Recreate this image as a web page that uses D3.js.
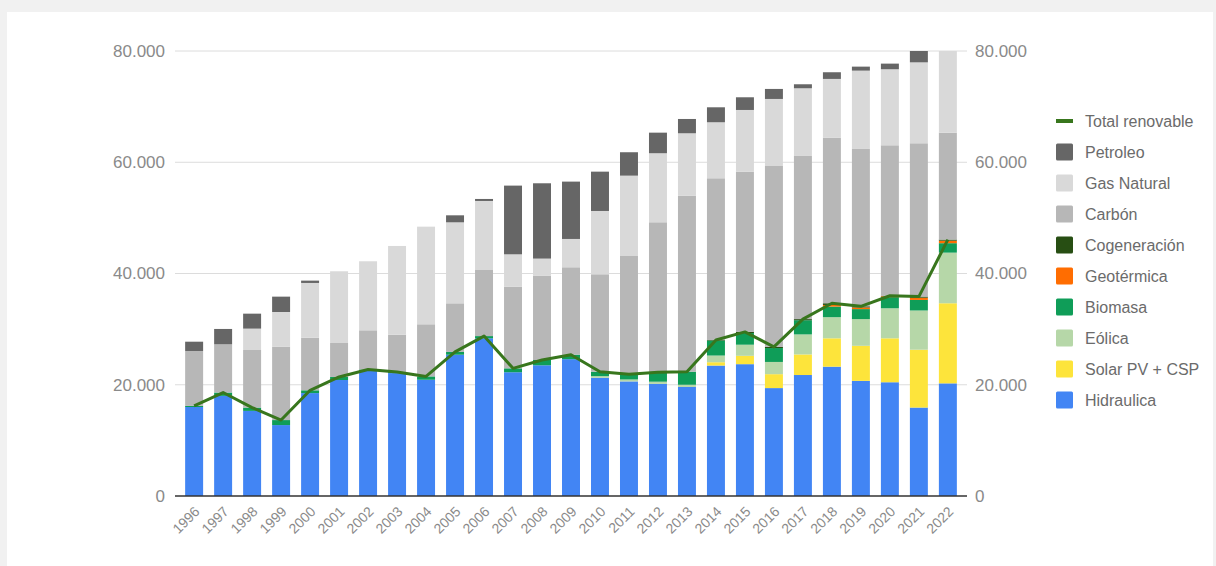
<!DOCTYPE html>
<html>
<head>
<meta charset="utf-8">
<script src="https://cdn.jsdelivr.net/npm/d3@7"></script>
<style>
  html, body { margin: 0; padding: 0; background: #f1f1f1; }
  svg { display: block; font-family: "Liberation Sans", Arial, sans-serif; }
</style>
</head>
<body>
<svg id="chart" width="1216" height="566"></svg>
<script>
// Generation capacity by source (MW), 1996–2022
const years = ["1996","1997","1998","1999","2000","2001","2002","2003","2004","2005","2006","2007","2008","2009","2010","2011","2012","2013","2014","2015","2016","2017","2018","2019","2020","2021","2022"];

const hidraulica   = [16000,18000,15300,12750,18500,20850,22500,22100,20900,25400,28350,22250,23500,24600,21250,20600,20150,19600,23450,23700,19400,21750,23250,20700,20450,15900,20250];
const solar        = [0,0,0,0,0,0,0,0,0,0,0,0,0,0,0,0,0,0,600,1500,2500,3700,5100,6300,7900,10400,14400];
const eolica       = [0,0,0,0,0,0,0,0,0,0,0,0,0,0,300,350,400,400,1200,2000,2200,3600,3800,4800,5400,7050,9100];
const biomasa      = [200,600,600,900,500,550,250,200,600,500,400,700,950,800,800,950,1700,2350,2700,2100,2500,2550,1900,1800,2000,1900,1700];
const geotermica   = [0,0,0,0,0,0,0,0,0,0,0,0,0,0,0,0,0,0,0,0,0,0,300,300,150,400,450];
const cogeneracion = [0,0,0,0,0,0,0,0,0,0,0,0,0,0,0,0,0,0,100,200,200,200,300,200,100,200,200];
const carbon       = [9870,8670,10350,13200,9470,6110,7040,6700,9370,8740,11880,14690,15170,15720,17510,21250,26960,31650,29070,28810,32530,29330,29780,28290,27050,27560,19220];
const gasNatural   = [0,0,3840,6230,9830,12890,12410,15950,17550,14560,12410,5810,3060,5090,11380,14440,12410,11210,10070,11090,12050,12170,10550,14080,13670,14550,14900];
const petroleo     = [1670,2760,2690,2760,420,0,0,0,0,1260,360,12350,13540,10310,7070,4210,3700,2570,2690,2280,1800,720,1200,720,1010,2100,0];
const totalRenovable = [16200,18600,15900,13650,19000,21400,22750,22300,21500,25900,28750,22950,24450,25400,22350,21900,22250,22350,28050,29500,26800,31800,34650,34100,36000,35850,46100];

const yTicks = [0, 20000, 40000, 60000, 80000];

// Stack order from the bottom up
const seriesDefs = [
  { key: "Hidraulica",      values: hidraulica,   color: "#4285f4" },
  { key: "Solar PV + CSP",  values: solar,        color: "#fde43b" },
  { key: "Eólica",          values: eolica,       color: "#b6d7a8" },
  { key: "Biomasa",         values: biomasa,      color: "#0f9d58" },
  { key: "Geotérmica",      values: geotermica,   color: "#ff6d01" },
  { key: "Cogeneración",    values: cogeneracion, color: "#274e13" },
  { key: "Carbón",          values: carbon,       color: "#b7b7b7" },
  { key: "Gas Natural",     values: gasNatural,   color: "#d9d9d9" },
  { key: "Petroleo",        values: petroleo,     color: "#666666" }
];
const lineColor = "#38761d";

const rows = years.map((y, i) => {
  const r = { year: y };
  seriesDefs.forEach(s => { r[s.key] = s.values[i]; });
  return r;
});

const svg = d3.select("#chart");

// card background
svg.append("rect").attr("x", 7).attr("y", 12).attr("width", 1206).attr("height", 554).attr("fill", "#ffffff");

const plot = { left: 175, right: 967, top: 51, bottom: 496 };

const x = d3.scaleBand().domain(years).range([plot.left, plot.right]).paddingInner(0.38).paddingOuter(0.35);
const y = d3.scaleLinear().domain([0, 80000]).range([plot.bottom, plot.top]);

// gridlines
svg.append("g").selectAll("line").data(yTicks.filter(d => d > 0)).join("line")
  .attr("x1", plot.left).attr("x2", plot.right)
  .attr("y1", d => y(d)).attr("y2", d => y(d))
  .attr("stroke", "#dcdcdc").attr("stroke-width", 1);

// clip bars to the plotting area
svg.append("clipPath").attr("id", "plotClip").append("rect")
  .attr("x", plot.left).attr("y", plot.top)
  .attr("width", plot.right - plot.left).attr("height", plot.bottom - plot.top);

const stack = d3.stack().keys(seriesDefs.map(s => s.key));
const stacked = stack(rows);

const bars = svg.append("g").attr("clip-path", "url(#plotClip)");
bars.selectAll("g").data(stacked).join("g")
  .attr("fill", (d, i) => seriesDefs[i].color)
  .selectAll("rect").data(d => d).join("rect")
    .attr("x", d => x(d.data.year))
    .attr("width", x.bandwidth())
    .attr("y", d => y(d[1]))
    .attr("height", d => Math.max(0, y(d[0]) - y(d[1])));

// baseline
svg.append("line").attr("x1", plot.left).attr("x2", plot.right)
  .attr("y1", y(0)).attr("y2", y(0)).attr("stroke", "#333").attr("stroke-width", 1.5);

// total renewable line
const line = d3.line().x((d, i) => x(years[i]) + x.bandwidth() / 2).y(d => y(d));
svg.append("path").datum(totalRenovable)
  .attr("d", line).attr("fill", "none")
  .attr("stroke", lineColor).attr("stroke-width", 3).attr("stroke-linejoin", "round");

// y axes (left and right)
const fmt = d => d === 0 ? "0" : d3.format(",")(d).replace(/,/g, ".");
const axisText = "#8a8a8a";
const leftAxis = svg.append("g").attr("transform", `translate(${plot.left - 10},0)`)
  .call(d3.axisLeft(y).tickValues(yTicks).tickFormat(fmt).tickSize(0).tickPadding(0));
const rightAxis = svg.append("g").attr("transform", `translate(${plot.right + 8},0)`)
  .call(d3.axisRight(y).tickValues(yTicks).tickFormat(fmt).tickSize(0).tickPadding(0));
[leftAxis, rightAxis].forEach(g => {
  g.select(".domain").remove();
  g.selectAll("text").attr("fill", axisText).style("font-size", "17px")
    .style("font-family", "'Liberation Sans', Arial, sans-serif");
});

// x axis with slanted year labels
const xAxis = svg.append("g").attr("transform", `translate(0,${plot.bottom})`)
  .call(d3.axisBottom(x).tickSize(0).tickPadding(0));
xAxis.select(".domain").remove();
xAxis.selectAll("text")
  .attr("fill", axisText)
  .style("font-size", "14px")
  .style("font-family", "'Liberation Sans', Arial, sans-serif")
  .attr("text-anchor", "end")
  .attr("y", 0).attr("dy", "0.35em")
  .attr("transform", "translate(3,13) rotate(-45)");

// legend
const legendItems = [{ key: "Total renovable", color: lineColor, isLine: true }]
  .concat(seriesDefs.slice().reverse().map(s => ({ key: s.key, color: s.color })));
const legend = svg.append("g").attr("transform", "translate(1056,121)");
const li = legend.selectAll("g").data(legendItems).join("g")
  .attr("transform", (d, i) => `translate(0,${i * 31})`);
li.filter(d => d.isLine).append("rect")
  .attr("x", 0).attr("y", -2).attr("width", 17).attr("height", 4).attr("fill", d => d.color);
li.filter(d => !d.isLine).append("rect")
  .attr("x", 0).attr("y", -8.5).attr("width", 17).attr("height", 17).attr("rx", 1.5).attr("fill", d => d.color);
li.append("text")
  .attr("x", 29).attr("y", 0).attr("dy", "0.35em")
  .attr("fill", "#6b6b6b").style("font-size", "16px")
  .text(d => d.key);
</script>
</body>
</html>
